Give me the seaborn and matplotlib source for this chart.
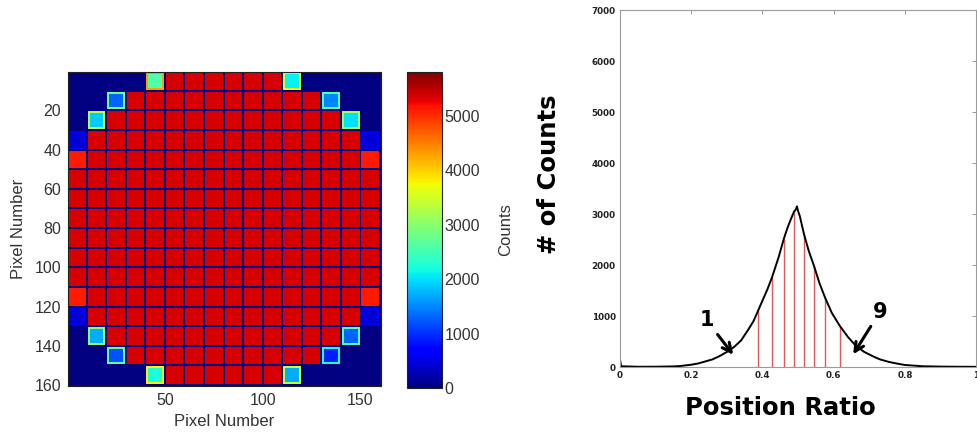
import numpy as np
import pandas as pd
import matplotlib
matplotlib.use("Agg")
import matplotlib.pyplot as plt
import seaborn as sns

# ---------------- flood map (16 x 16 crystal blocks, 10 pixels each) ----------------
N_PIXELS = 160
BLOCK_SIZE = 10
COUNTS_MAX = 5800

# mean counts per block, row by row (0 = outside the detector disc)
BLOCK_COUNTS = [
    [0, 0, 0, 0, 2600, 5350, 5350, 5350, 5350, 5350, 5350, 2100, 0, 0, 0, 0],
    [0, 0, 1300, 5350, 5350, 5350, 5350, 5350, 5350, 5350, 5350, 5350, 5350, 1500, 0, 0],
    [0, 1900, 5350, 5350, 5350, 5350, 5350, 5350, 5350, 5350, 5350, 5350, 5350, 5350, 2000, 0],
    [450, 5350, 5350, 5350, 5350, 5350, 5350, 5350, 5350, 5350, 5350, 5350, 5350, 5350, 5350, 450],
    [5100, 5350, 5350, 5350, 5350, 5350, 5350, 5350, 5350, 5350, 5350, 5350, 5350, 5350, 5350, 5100],
    [5350, 5350, 5350, 5350, 5350, 5350, 5350, 5350, 5350, 5350, 5350, 5350, 5350, 5350, 5350, 5350],
    [5350, 5350, 5350, 5350, 5350, 5350, 5350, 5350, 5350, 5350, 5350, 5350, 5350, 5350, 5350, 5350],
    [5350, 5350, 5350, 5350, 5350, 5350, 5350, 5350, 5350, 5350, 5350, 5350, 5350, 5350, 5350, 5350],
    [5350, 5350, 5350, 5350, 5350, 5350, 5350, 5350, 5350, 5350, 5350, 5350, 5350, 5350, 5350, 5350],
    [5350, 5350, 5350, 5350, 5350, 5350, 5350, 5350, 5350, 5350, 5350, 5350, 5350, 5350, 5350, 5350],
    [5350, 5350, 5350, 5350, 5350, 5350, 5350, 5350, 5350, 5350, 5350, 5350, 5350, 5350, 5350, 5350],
    [5100, 5350, 5350, 5350, 5350, 5350, 5350, 5350, 5350, 5350, 5350, 5350, 5350, 5350, 5350, 5100],
    [450, 5350, 5350, 5350, 5350, 5350, 5350, 5350, 5350, 5350, 5350, 5350, 5350, 5350, 5350, 450],
    [0, 1700, 5350, 5350, 5350, 5350, 5350, 5350, 5350, 5350, 5350, 5350, 5350, 5350, 1300, 0],
    [0, 0, 1200, 5350, 5350, 5350, 5350, 5350, 5350, 5350, 5350, 5350, 5350, 900, 0, 0],
    [0, 0, 0, 0, 2200, 5350, 5350, 5350, 5350, 5350, 5350, 1700, 0, 0, 0, 0],
]

# brighter outer ring of the partially illuminated edge blocks: (row, col, rim counts)
EDGE_RIMS = [
    (0, 4, 4300), (0, 11, 3600), (1, 2, 2800), (1, 13, 2600),
    (2, 1, 3300), (2, 14, 3200), (3, 0, 650), (3, 15, 650),
    (12, 0, 600), (12, 15, 600), (13, 1, 3000), (13, 14, 2600),
    (14, 2, 2700), (14, 13, 2200), (15, 4, 3800), (15, 11, 3400),
]

PIXEL_TICKS_Y = [20, 40, 60, 80, 100, 120, 140, 160]
PIXEL_TICKS_X = [50, 100, 150]
CBAR_TICKS = [0, 1000, 2000, 3000, 4000, 5000]

# ---------------- position-ratio profile ----------------
PROFILE_RATIO = [0.000, 0.003, 0.05, 0.10, 0.15, 0.17, 0.20, 0.22, 0.24, 0.26,
                 0.28, 0.30, 0.32, 0.34, 0.36, 0.375, 0.387, 0.400, 0.415, 0.427,
                 0.445, 0.460, 0.470, 0.480, 0.489, 0.494, 0.497, 0.500, 0.505, 0.517,
                 0.530, 0.545, 0.560, 0.576, 0.595, 0.617, 0.640, 0.662, 0.685, 0.709,
                 0.730, 0.755, 0.780, 0.800, 0.850, 0.900, 0.950, 1.000]
PROFILE_COUNTS = [150, 15, 5, 6, 12, 20, 45, 70, 110, 150,
                  215, 295, 390, 520, 730, 900, 1090, 1300, 1540, 1760,
                  2140, 2510, 2720, 2900, 3050, 3090, 3150, 3060, 2960, 2600,
                  2280, 1980, 1650, 1360, 1060, 810, 590, 420, 300, 215,
                  150, 100, 65, 40, 15, 8, 5, 4]

# crystal boundaries (8 cuts separating crystals 1..9)
BOUNDARY_RATIO = [0.387, 0.427, 0.460, 0.489, 0.517, 0.545, 0.576, 0.617]
BOUNDARY_COUNTS = [1090, 1760, 2510, 3050, 2600, 1980, 1360, 810]

RATIO_TICKS = [0, 0.2, 0.4, 0.6, 0.8, 1]
COUNT_TICKS = [0, 1000, 2000, 3000, 4000, 5000, 6000, 7000]

# ---------------- build the flood image ----------------
flood = np.zeros((N_PIXELS, N_PIXELS))
for r, row in enumerate(BLOCK_COUNTS):
    for c, val in enumerate(row):
        r0, c0 = r * BLOCK_SIZE, c * BLOCK_SIZE
        # last pixel of each block is the dark gap between crystals
        flood[r0:r0 + BLOCK_SIZE - 1, c0:c0 + BLOCK_SIZE - 1] = val
for r, c, rim in EDGE_RIMS:
    r0, c0 = r * BLOCK_SIZE, c * BLOCK_SIZE
    r1, c1 = r0 + BLOCK_SIZE - 1, c0 + BLOCK_SIZE - 1
    flood[r0, c0:c1] = rim
    flood[r1 - 1, c0:c1] = rim
    flood[r0:r1, c0] = rim
    flood[r0:r1, c1 - 1] = rim
flood_df = pd.DataFrame(flood, index=np.arange(1, N_PIXELS + 1),
                        columns=np.arange(1, N_PIXELS + 1))

sns.set_theme(style="white")
plt.rcParams["font.family"] = ["Liberation Sans", "DejaVu Sans"]

fig = plt.figure(figsize=(9.77, 4.33), dpi=100)
ax_map = fig.add_axes([0.0696, 0.1085, 0.3204, 0.7252])
cax = fig.add_axes([0.4163, 0.1039, 0.0358, 0.7300])
ax_hist = fig.add_axes([0.6346, 0.1524, 0.3644, 0.8245])

text_col = "#333333"

sns.heatmap(flood_df, ax=ax_map, cmap="jet", vmin=0, vmax=COUNTS_MAX,
            cbar_ax=cax, xticklabels=False, yticklabels=False,
            rasterized=True, cbar_kws={"ticks": CBAR_TICKS})

ax_map.set_xticks([t - 0.5 for t in PIXEL_TICKS_X])
ax_map.set_xticklabels([str(t) for t in PIXEL_TICKS_X])
ax_map.set_yticks([t - 0.5 for t in PIXEL_TICKS_Y])
ax_map.set_yticklabels([str(t) for t in PIXEL_TICKS_Y], rotation=0)
ax_map.tick_params(direction="in", length=3, width=0.6, top=True, right=True,
                   labelsize=11.5, color="#1a1a1a", labelcolor=text_col, pad=5)
for s in ax_map.spines.values():
    s.set_visible(True)
    s.set_linewidth(0.8)
    s.set_color("#222222")
ax_map.set_xlabel("Pixel Number", fontsize=12, color=text_col, labelpad=4)
ax_map.set_ylabel("Pixel Number", fontsize=12, color=text_col, labelpad=6)

cbar = ax_map.collections[0].colorbar
cbar.outline.set_linewidth(0.8)
cbar.outline.set_edgecolor("#222222")
cax.tick_params(direction="in", length=3, width=0.6, labelsize=11.5,
                color="#1a1a1a", labelcolor=text_col, pad=2)
cbar.set_label("Counts", fontsize=12, color=text_col, labelpad=13)

# ---------------- position-ratio histogram ----------------
bold = {"family": "DejaVu Sans", "weight": "bold"}
prof = pd.DataFrame({"ratio": PROFILE_RATIO, "counts": PROFILE_COUNTS})
sns.lineplot(data=prof, x="ratio", y="counts", ax=ax_hist, color="black",
             linewidth=1.4, estimator=None, sort=False)
ax_hist.vlines(BOUNDARY_RATIO, 0, BOUNDARY_COUNTS, color="#e05a5a", linewidth=1.0,
               zorder=1)

ax_hist.set_xlim(0, 1)
ax_hist.set_ylim(0, 7000)
ax_hist.set_xticks(RATIO_TICKS)
ax_hist.set_xticklabels(["0", "0.2", "0.4", "0.6", "0.8", "1"])
ax_hist.set_yticks(COUNT_TICKS)
ax_hist.set_yticklabels([str(t) for t in COUNT_TICKS])
ax_hist.tick_params(direction="in", length=3, width=0.6, top=True, right=True,
                    color="#888888", labelcolor="#222222", pad=3)
for lab in ax_hist.get_xticklabels() + ax_hist.get_yticklabels():
    lab.set_fontfamily("DejaVu Sans")
    lab.set_fontweight("bold")
    lab.set_fontsize(6.3)
for s in ax_hist.spines.values():
    s.set_linewidth(0.8)
    s.set_color("#9a9a9a")

ax_hist.set_xlabel("Position Ratio", fontsize=17.5, color="black", **bold)
ax_hist.xaxis.set_label_coords(0.451, -0.081)
ax_hist.set_ylabel("# of Counts", fontsize=17.5, color="black", **bold)
ax_hist.yaxis.set_label_coords(-0.165, 0.54)

arrow = dict(arrowstyle="->", color="black", lw=2.2, mutation_scale=16,
             shrinkA=1, shrinkB=0)
ax_hist.annotate("1", xy=(0.318, 240), xytext=(0.243, 920), ha="center",
                 va="center", fontsize=15, color="black", arrowprops=arrow, **bold)
ax_hist.annotate("9", xy=(0.655, 250), xytext=(0.730, 1080), ha="center",
                 va="center", fontsize=15, color="black", arrowprops=arrow, **bold)

fig.savefig("out.png", dpi=100)
